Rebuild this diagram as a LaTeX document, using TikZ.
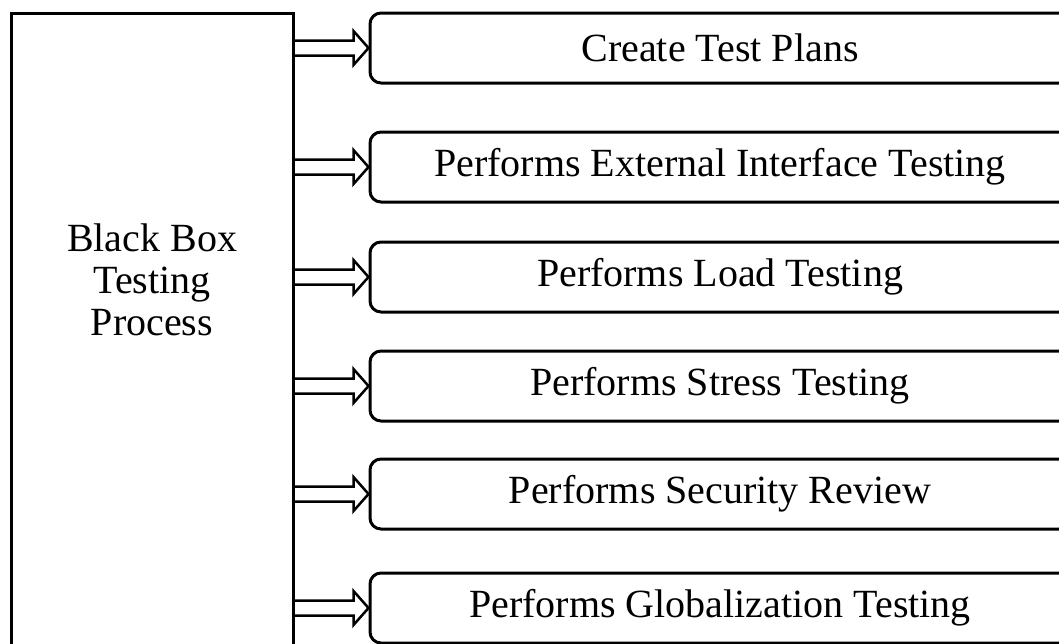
\documentclass[tikz,border=0pt]{standalone}
\usepackage{fontspec}
\setmainfont{Liberation Serif}
\usetikzlibrary{calc}
\begin{document}
\begin{tikzpicture}[x=1pt,y=-1pt,
  bigbox/.style={draw,line width=3pt,minimum width=282pt,minimum height=680pt,inner sep=0pt},
  bigtext/.style={align=center,font=\fontsize{40}{42}\selectfont},
  stepbox/.style={draw,line width=3pt,rounded corners=11pt,minimum width=700pt,minimum height=70pt,
    inner sep=0pt,font=\fontsize{40}{42}\selectfont},
  blockarrow/.style={draw,line width=2.5pt,line join=miter}]
  \useasboundingbox (0,0) rectangle (1059,643);
  \clip (0,0) rectangle (1059,643);
  \fill[white] (0,0) rectangle (1059,643);
  % left process box, running past the lower edge
  \node[bigbox] (proc) at (152,353) {};
  \node[bigtext] (proclabel) at (152,280) {Black Box\\Testing\\Process};
  % the six activities
  \node[stepbox] (b1) at (720,48)  {Create Test Plans};
  \node[stepbox] (b2) at (720,167) {Performs External Interface Testing};
  \node[stepbox] (b3) at (720,277) {Performs Load Testing};
  \node[stepbox] (b4) at (720,386) {Performs Stress Testing};
  \node[stepbox] (b5) at (720,494) {Performs Security Review};
  \node[stepbox] (b6) at (720,608) {Performs Globalization Testing};
  % outlined block arrows from the process box to each activity
  \foreach \b in {b1,b2,b3,b4,b5,b6}{
    \draw[blockarrow]
      ($(proc.east|-\b.west)+(0,-7.5)$) -- ($(\b.west)+(-15,-7.5)$)
      -- ($(\b.west)+(-15,-17)$) -- (\b.west)
      -- ($(\b.west)+(-15,17)$) -- ($(\b.west)+(-15,7.5)$)
      -- ($(proc.east|-\b.west)+(0,7.5)$);
  }
\end{tikzpicture}
\end{document}
